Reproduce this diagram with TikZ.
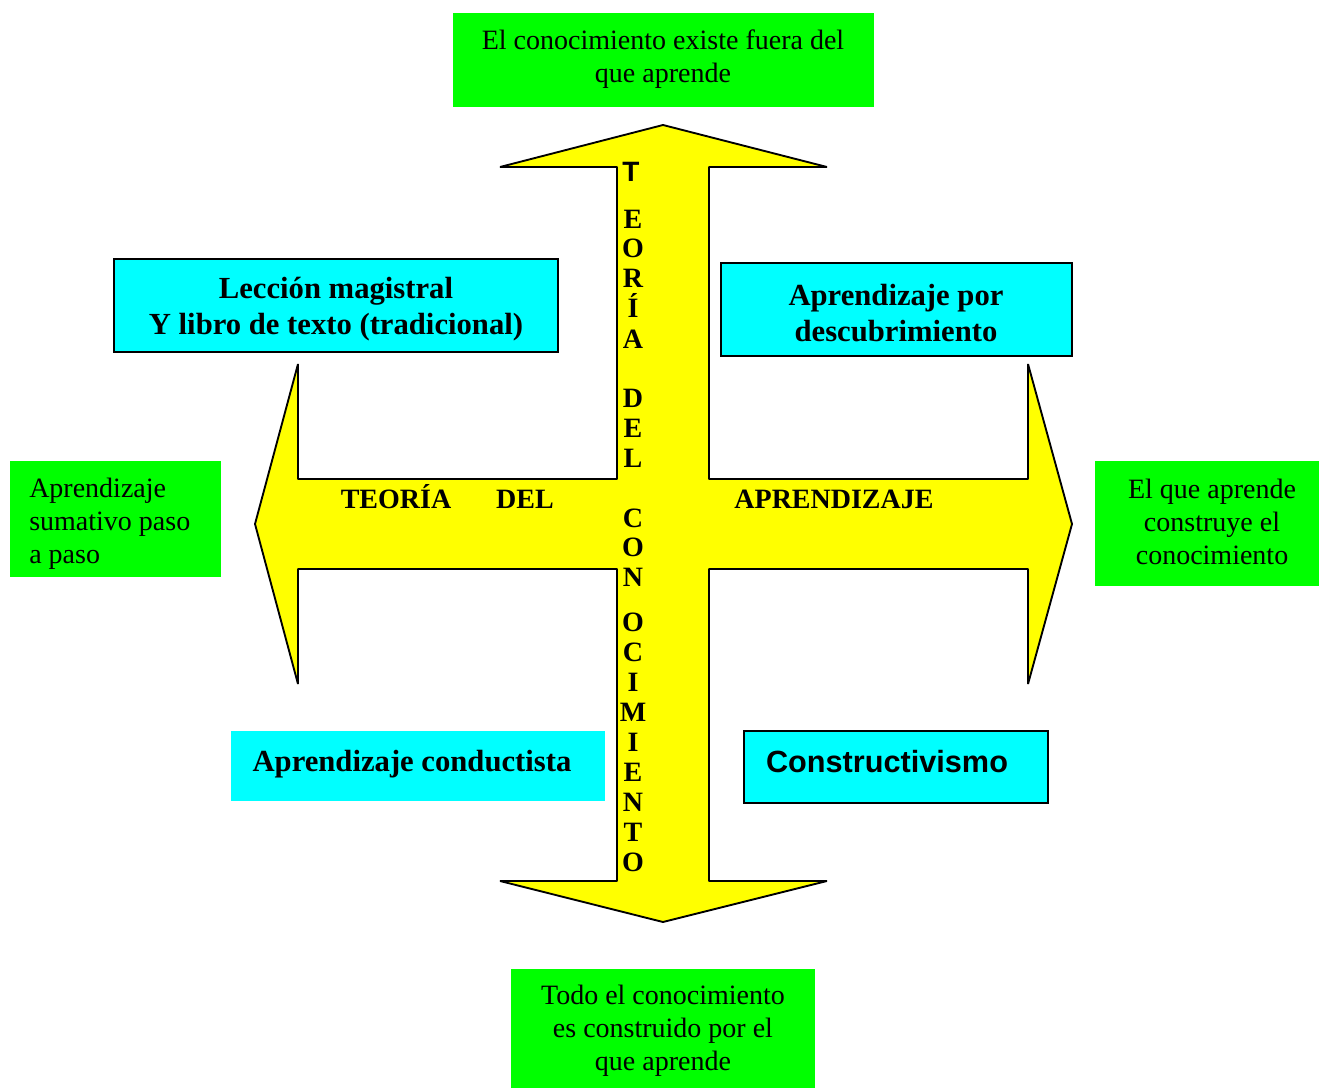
\documentclass[tikz,border=0pt]{standalone}
\usepackage{fontspec}
\setmainfont{Liberation Serif}
\setsansfont{Liberation Sans}
\usetikzlibrary{fit}
\definecolor{gbox}{HTML}{00FF00}
\definecolor{cbox}{HTML}{00FFFF}
\definecolor{ycross}{HTML}{FFFF00}
\tikzset{
  greenbox/.style={fill=gbox, draw=none, inner sep=0pt},
  cyanbox/.style={fill=cbox, draw=black, line width=1.3pt, inner sep=0pt},
  cyanplain/.style={fill=cbox, draw=none, inner sep=0pt},
  gtext/.style={font=\fontsize{21}{24.75}\selectfont, inner sep=0pt},
  ctext/.style={font=\fontsize{23}{26.5}\selectfont\bfseries, inner sep=0pt, align=center},
  xlabel/.style={font=\fontsize{21}{24}\selectfont\bfseries, inner sep=0pt, anchor=base},
  vletter/.style={font=\fontsize{21}{24}\selectfont\bfseries, inner sep=0pt, anchor=base},
}
\begin{document}
\begin{tikzpicture}[x=0.75pt,y=-0.75pt]
\useasboundingbox (0,0) rectangle (1319,1088);
% cross
\draw[fill=ycross, line width=1.4pt, line join=bevel]
  (663,125) -- (827,167) -- (709,167) -- (709,479) -- (1028,479) -- (1028,364)
  -- (1072,524) -- (1028,684) -- (1028,569) -- (709,569) -- (709,881) -- (827,881)
  -- (663,922) -- (500,881) -- (617,881) -- (617,569) -- (298,569) -- (298,684)
  -- (255,524) -- (298,364) -- (298,479) -- (617,479) -- (617,167) -- (500,167) -- cycle;
% green boxes
\node[greenbox, fit={(453,13) (874,107)}] (top) {};
\node[greenbox, fit={(10,461) (221,577)}] (left) {};
\node[greenbox, fit={(1095,461) (1319,586)}] (right) {};
\node[greenbox, fit={(511,969) (815,1088)}] (bottom) {};
\node[gtext, align=center] (toptxt) at (663,59) {El conocimiento existe fuera del\\que aprende};
\node[gtext, align=left, anchor=west] (lefttxt) at (29,524) {Aprendizaje\\sumativo paso\\a paso};
\node[gtext, align=center] (righttxt) at (1212,522) {El que aprende\\construye el\\conocimiento};
\node[gtext, align=center] (bottomtxt) at (663,1031) {Todo el conocimiento\\es construido por el\\que aprende};
% cyan boxes
\node[cyanbox, fit={(114,259) (558,352)}] (tl) {};
\node[cyanbox, fit={(721,263) (1072,356)}] (tr) {};
\node[cyanplain, fit={(231,731) (605,801)}] (bl) {};
\node[cyanbox, fit={(744,731) (1048,803)}] (br) {};
\node[ctext] (tltxt) at (336,309) {Lección magistral\\Y libro de texto (tradicional)};
\node[ctext] (trtxt) at (896,313) {Aprendizaje por\\descubrimiento};
\node[ctext] (bltxt) at (412,764) {Aprendizaje conductista};
\node[ctext, font=\fontsize{23}{26.5}\selectfont\sffamily\bfseries] (brtxt) at (887,762) {Constructivismo};
% horizontal labels
\node[xlabel] (h1) at (396,508) {TEORÍA};
\node[xlabel] (h2) at (525,508) {DEL};
\node[xlabel] (h3) at (834,508) {APRENDIZAJE};
% vertical letters
\node[vletter, font=\fontsize{21}{24}\selectfont\sffamily\bfseries] (v0) at (631,181) {T};
\foreach \l/\yy [count=\i] in {E/228,O/257,R/287,Í/317,A/348,D/407,E/437,L/467,C/527,O/556,N/586,O/631,C/661,I/691,M/721,I/751,E/781,N/811,T/841,O/871}
  \node[vletter] (v\i) at (633,\yy) {\l};
\end{tikzpicture}
\end{document}
